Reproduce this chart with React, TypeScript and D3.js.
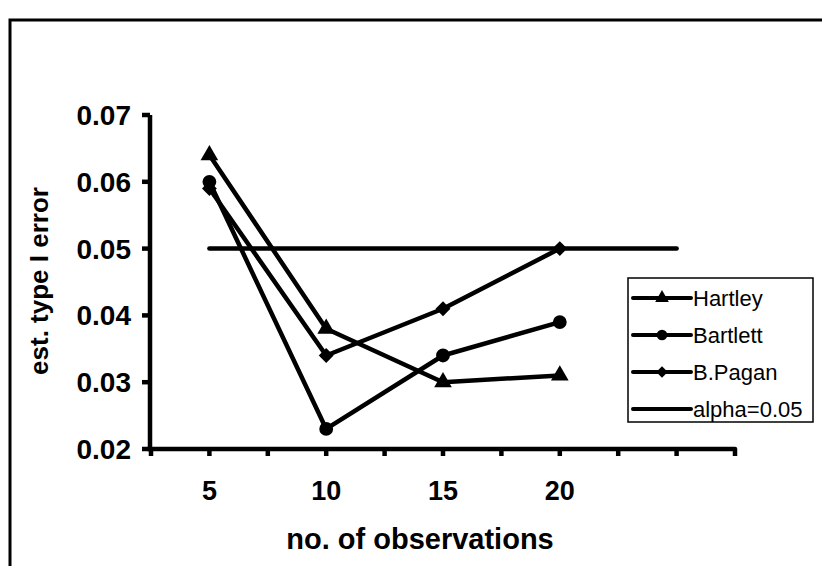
import React from 'react';
import * as d3 from 'd3';

// values
const xValues = [5, 10, 15, 20];
const hartley = [0.064, 0.038, 0.030, 0.031];
const bartlett = [0.060, 0.023, 0.034, 0.039];
const bPagan = [0.059, 0.034, 0.041, 0.050];
const alphaX = [5, 25];
const alphaY = [0.05, 0.05];

const yTicks = [0.02, 0.03, 0.04, 0.05, 0.06, 0.07];
const xTicks = [2.5, 5, 7.5, 10, 12.5, 15, 17.5, 20, 22.5, 25, 27.5];
const xTickLabels = [5, 10, 15, 20];

const legendNames = ['Hartley', 'Bartlett', 'B.Pagan', 'alpha=0.05'];

const W = 822;
const H = 566;
const FONT = '"Liberation Sans", Arial, Helvetica, sans-serif';

const App: React.FC = () => {
  const x = d3.scaleLinear().domain([2.5, 27.5]).range([151, 735]);
  const y = d3.scaleLinear().domain([0.02, 0.07]).range([449, 115]);

  const line = d3.line<[number, number]>()
    .x(d => x(d[0]))
    .y(d => y(d[1]));

  const series = [
    { name: 'Hartley', values: hartley, symbol: d3.symbolTriangle, size: 135 },
    { name: 'Bartlett', values: bartlett, symbol: d3.symbolCircle, size: 150 },
    { name: 'B.Pagan', values: bPagan, symbol: d3.symbolDiamond2, size: 140 },
  ];

  const alphaPts: [number, number][] = alphaX.map((v, i) => [v, alphaY[i]]);

  // legend layout
  const lg = { x0: 628, y0: 278, x1: 813, y1: 422 };
  const legendRows = [298, 335, 372, 409];

  return (
    <div style={{ position: 'absolute', left: 0, top: 0 }}>
      <svg width={W} height={H} viewBox={`0 0 ${W} ${H}`} style={{ display: 'block', background: '#fff' }}>
        {/* outer frame (open to the right and bottom like the scan) */}
        <path d={`M10,${H} L10,20 L${W},20`} fill="none" stroke="#000" strokeWidth={3} />

        {/* y axis */}
        <line x1={150} x2={150} y1={y(0.07)} y2={y(0.02)} stroke="#000" strokeWidth={4.5} />
        {yTicks.map(t => (
          <g key={'yt' + t}>
            <line x1={142} x2={150} y1={y(t)} y2={y(t)} stroke="#000" strokeWidth={4.5} />
            <text x={131} y={y(t)} dy="0.36em" textAnchor="end" fontFamily={FONT}
              fontWeight="bold" fontSize={28} fill="#000">{d3.format('.2f')(t)}</text>
          </g>
        ))}
        <text transform={`translate(48,281) rotate(-90)`} textAnchor="middle" fontFamily={FONT}
          fontWeight="bold" fontSize={26} fill="#000">est. type I error</text>

        {/* x axis */}
        <line x1={148} x2={x(27.5)} y1={y(0.02)} y2={y(0.02)} stroke="#000" strokeWidth={4.5} strokeLinecap="round" />
        {xTicks.map(t => (
          <line key={'xt' + t} x1={x(t)} x2={x(t)} y1={y(0.02)} y2={y(0.02) + 7}
            stroke="#000" strokeWidth={4.5} />
        ))}
        {xTickLabels.map(t => (
          <text key={'xl' + t} x={x(t)} y={500} textAnchor="middle" fontFamily={FONT}
            fontWeight="bold" fontSize={27} fill="#000">{t}</text>
        ))}
        <text x={420} y={549} textAnchor="middle" fontFamily={FONT}
          fontWeight="bold" fontSize={29} fill="#000">no. of observations</text>

        {/* alpha reference line */}
        <path d={line(alphaPts) || ''} fill="none" stroke="#000" strokeWidth={4.5} strokeLinecap="round" />

        {/* series */}
        {series.map(s => {
          const pts: [number, number][] = xValues.map((v, i) => [v, s.values[i]]);
          const sym = d3.symbol().type(s.symbol).size(s.size)() || '';
          return (
            <g key={s.name}>
              <path d={line(pts) || ''} fill="none" stroke="#000" strokeWidth={4.5} strokeLinejoin="round" />
              {pts.map((p, i) => (
                <path key={i} d={sym} transform={`translate(${x(p[0])},${y(p[1])})`} fill="#000" />
              ))}
            </g>
          );
        })}

        {/* legend */}
        <rect x={lg.x0} y={lg.y0} width={lg.x1 - lg.x0} height={lg.y1 - lg.y0}
          fill="#fff" stroke="#000" strokeWidth={1.5} />
        {legendNames.map((name, i) => {
          const ry = legendRows[i];
          const s = series[i];
          const sym = s ? d3.symbol().type(s.symbol).size(s.size * 0.6)() || '' : '';
          return (
            <g key={'lg' + name}>
              <line x1={633} x2={691} y1={ry} y2={ry} stroke="#000" strokeWidth={4} strokeLinecap="round" />
              {s && <path d={sym} transform={`translate(662,${ry})`} fill="#000" />}
              <text x={693} y={ry} dy="0.36em" fontFamily={FONT} fontSize={22} fill="#000">{name}</text>
            </g>
          );
        })}
      </svg>
    </div>
  );
};

export default App;
